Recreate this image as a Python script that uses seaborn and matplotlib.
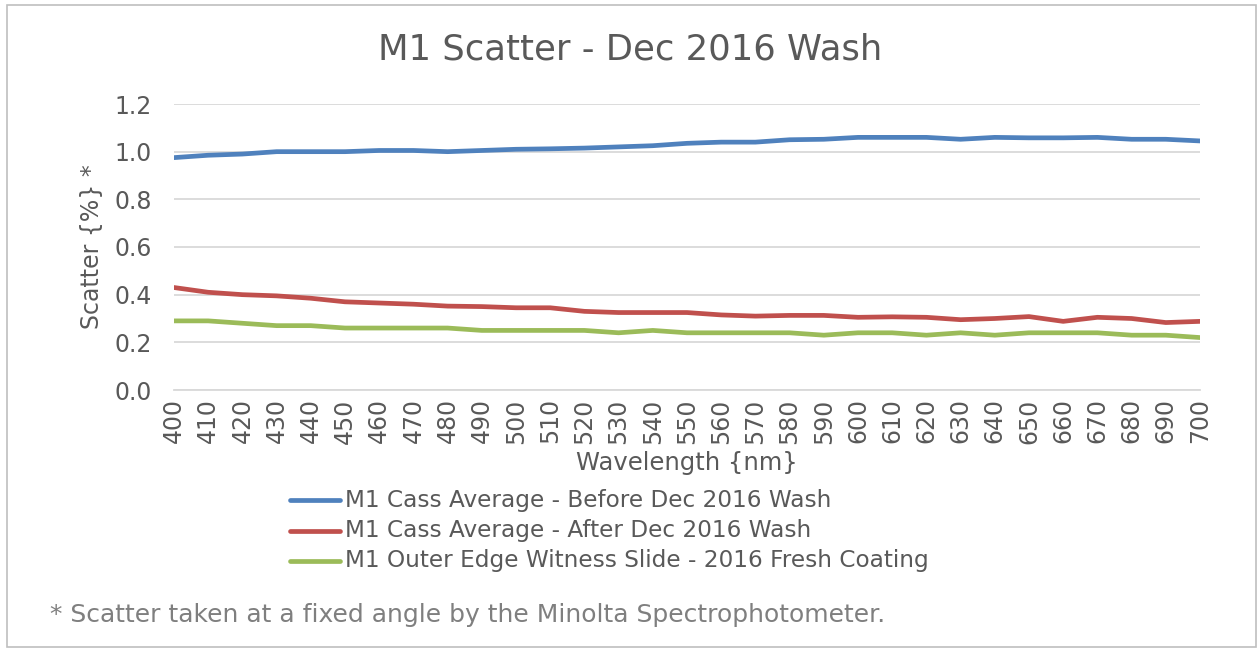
import pandas as pd
import matplotlib.pyplot as plt
import seaborn as sns
from matplotlib.patches import Rectangle

wavelength = list(range(400, 701, 10))

before_wash = [0.975, 0.985, 0.99, 1.0, 1.0, 1.0, 1.005, 1.005, 1.0, 1.005,
               1.01, 1.012, 1.015, 1.02, 1.025, 1.035, 1.04, 1.04, 1.05, 1.052,
               1.06, 1.06, 1.06, 1.052, 1.06, 1.058, 1.058, 1.06, 1.052, 1.052,
               1.045]
after_wash = [0.43, 0.41, 0.40, 0.395, 0.385, 0.37, 0.365, 0.36, 0.352, 0.35,
              0.345, 0.345, 0.33, 0.325, 0.325, 0.325, 0.315, 0.31, 0.313, 0.313,
              0.305, 0.307, 0.305, 0.295, 0.30, 0.308, 0.288, 0.305, 0.30, 0.283,
              0.288]
witness = [0.29, 0.29, 0.28, 0.27, 0.27, 0.26, 0.26, 0.26, 0.26, 0.25,
           0.25, 0.25, 0.25, 0.24, 0.25, 0.24, 0.24, 0.24, 0.24, 0.23,
           0.24, 0.24, 0.23, 0.24, 0.23, 0.24, 0.24, 0.24, 0.23, 0.23,
           0.22]

series_names = ["M1 Cass Average - Before Dec 2016 Wash",
                "M1 Cass Average - After Dec 2016 Wash",
                "M1 Outer Edge Witness Slide - 2016 Fresh Coating"]
colors = ["#4f81bd", "#c0504d", "#9bbb59"]

df = pd.DataFrame({"Wavelength": wavelength * 3,
                   "Scatter": before_wash + after_wash + witness,
                   "Series": [s for s in series_names for _ in wavelength]})

sns.set_style("white")
plt.rcParams['font.family'] = ['DejaVu Sans']
text_col = "#595959"

fig = plt.figure(figsize=(12.6, 6.51), dpi=100)
ax = fig.add_axes([174 / 1260, 1 - 390 / 651, 1026 / 1260, 286 / 651])

sns.lineplot(data=df, x="Wavelength", y="Scatter", hue="Series",
             palette=colors, linewidth=3.4, ax=ax, legend=False)

ax.set_xlim(400, 700)
ax.set_ylim(0, 1.2)
ax.set_yticks([0.0, 0.2, 0.4, 0.6, 0.8, 1.0, 1.2])
ax.set_yticklabels([f"{v:.1f}" for v in [0.0, 0.2, 0.4, 0.6, 0.8, 1.0, 1.2]])
ax.set_xticks(wavelength)
ax.set_xticklabels([str(w) for w in wavelength], rotation=90)
ax.set_xticks(list(range(400, 701, 20)), minor=True)
ax.xaxis.remove_overlapping_locs = False
ax.tick_params(axis='x', which='major', length=0, pad=6, labelsize=17, colors=text_col)
ax.tick_params(axis='x', which='minor', length=7, direction='in', color="#d9d9d9", width=1.3)
ax.tick_params(axis='y', length=0, pad=16, labelsize=17, colors=text_col)

ax.grid(axis='y', color="#d9d9d9", linewidth=1.3)
ax.set_axisbelow(True)
for side in ["top", "right", "left"]:
    ax.spines[side].set_visible(False)
ax.spines["bottom"].set_color("#d9d9d9")
ax.spines["bottom"].set_linewidth(1.3)

ax.set_xlabel("Wavelength {nm}", fontsize=17.5, color=text_col, labelpad=5)
ax.set_ylabel("Scatter {%} *", fontsize=17, color=text_col)
ax.yaxis.set_label_coords(-0.068, 0.5)

fig.text(0.5, 1 - 50 / 651, "M1 Scatter - Dec 2016 Wash", ha='center', va='center',
         fontsize=25.5, color=text_col)

for i, (name, c) in enumerate(zip(series_names, colors)):
    y = 1 - (500 + i * 30.5) / 651
    fig.lines.append(plt.Line2D([290 / 1260, 340 / 1260], [y, y], color=c,
                                linewidth=3.4, transform=fig.transFigure))
    fig.text(345 / 1260, y, name, ha='left', va='center', fontsize=16.7, color=text_col)

fig.text(50 / 1260, 1 - 615 / 651, "* Scatter taken at a fixed angle by the Minolta Spectrophotometer.",
         ha='left', va='center', fontsize=18, color="#7f7f7f")

fig.patches.append(Rectangle((7 / 1260, 1 - 647 / 651), 1249 / 1260, 642 / 651,
                             transform=fig.transFigure, fill=False,
                             edgecolor="#bfbfbf", linewidth=1.2))

fig.savefig("out.png", dpi=100)
